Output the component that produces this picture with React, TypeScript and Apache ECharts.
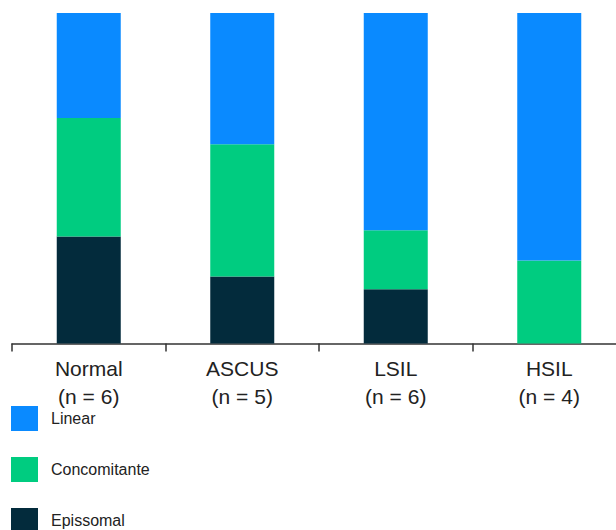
import React, { useEffect, useRef } from "react";
import * as echarts from "echarts";

const categories = ["Normal\n(n = 6)", "ASCUS\n(n = 5)", "LSIL\n(n = 6)", "HSIL\n(n = 4)"];
const episomal = [32.4, 20.3, 16.4, 0];
const concomitante = [35.8, 40.0, 17.9, 25.1];
const linear = [31.8, 39.7, 65.7, 74.9];
const legendNames = ["Linear", "Concomitante", "Epissomal"];
const legendTops = [406, 457, 508];

export default function App() {
  const ref = useRef<HTMLDivElement>(null);
  useEffect(() => {
    document.body.style.margin = "0";
    const chart = echarts.init(ref.current!, null, { renderer: "svg" });
    chart.setOption({
      animation: false,
      textStyle: { fontFamily: "Liberation Sans, Arial, sans-serif" },
      grid: { left: 12, right: -10, top: 13, bottom: 186.5, outerBoundsMode: "none", containLabel: false },
      legend: legendNames.map((n, i) => ({
        orient: "vertical",
        left: 11,
        top: legendTops[i],
        padding: 0,
        itemWidth: 27,
        itemHeight: 25,
        icon: "rect",
        data: [n],
        textStyle: { fontSize: 16, color: "#222", fontFamily: "Liberation Sans, Arial, sans-serif", padding: [0, 0, 0, 8] },
      })),
      xAxis: {
        type: "category",
        data: categories,
        axisLine: { lineStyle: { color: "#333", width: 1.5 } },
        axisTick: { show: true, length: 8, lineStyle: { color: "#333", width: 1.5 } },
        axisLabel: {
          fontSize: 21,
          lineHeight: 28,
          color: "#222",
          margin: 11,
          fontFamily: "Liberation Sans, Arial, sans-serif",
        },
      },
      yAxis: { type: "value", min: 0, max: 100, show: false, splitLine: { show: false } },
      series: [
        { name: "Epissomal", type: "bar", stack: "s", data: episomal, barWidth: 64, itemStyle: { color: "#032B3C" } },
        { name: "Concomitante", type: "bar", stack: "s", data: concomitante, barWidth: 64, itemStyle: { color: "#00CC80" } },
        { name: "Linear", type: "bar", stack: "s", data: linear, barWidth: 64, itemStyle: { color: "#0A8AFF" } },
      ],
    });
    return () => chart.dispose();
  }, []);
  return <div ref={ref} style={{ width: 616, height: 530 }} />;
}
